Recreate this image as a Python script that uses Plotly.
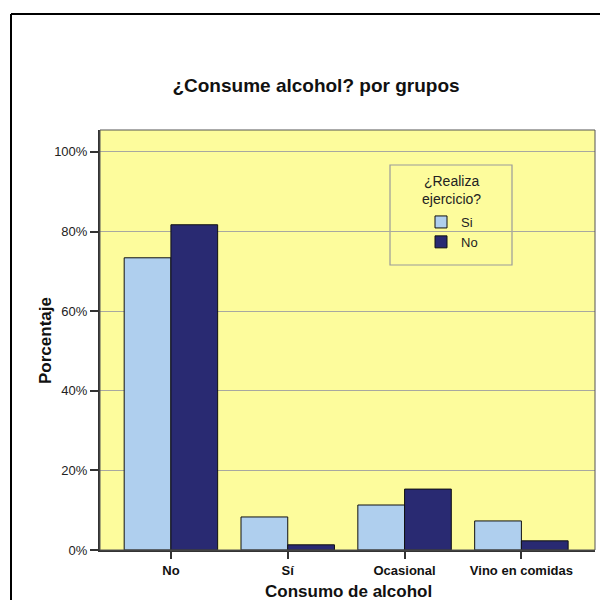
import plotly.graph_objects as go

categories = ["No", "Sí", "Ocasional", "Vino en comidas"]
series_names = ["Si", "No"]
si_values = [73.4, 8.3, 11.3, 7.3]
no_values = [81.7, 1.3, 15.3, 2.3]
y_ticks = [0, 20, 40, 60, 80, 100]
y_ticklabels = ["0%", "20%", "40%", "60%", "80%", "100%"]
legend_title = "¿Realiza<br>ejercicio?"

colors = ["#AFCFEE", "#292A72"]
FONT = "Liberation Sans, Arial, sans-serif"

L, R, T, B = 100, 595, 130, 550
W, H = R - L, B - T


def px(x):
    return (x - L) / W


def py(y):
    return (B - y) / H


fig = go.Figure()
for name, vals, col in zip(series_names, [si_values, no_values], colors):
    fig.add_trace(go.Bar(
        x=list(range(len(categories))), y=vals, name=name,
        marker=dict(color=col, line=dict(color="#111111", width=1)),
    ))

annotations = [
    dict(text=legend_title, xref="paper", yref="paper", x=px(451), y=py(190),
         xanchor="center", yanchor="middle", showarrow=False, align="center",
         font=dict(family=FONT, size=14, color="#222222")),
    dict(text="<b>Porcentaje</b>", xref="paper", yref="paper", x=px(45), y=py(341),
         xanchor="center", yanchor="middle", showarrow=False, textangle=-90,
         font=dict(family=FONT, size=17, color="#111111")),
    dict(text="<b>Consumo de alcohol</b>", xref="paper", yref="paper", x=px(348), y=py(591),
         xanchor="center", yanchor="middle", showarrow=False,
         font=dict(family=FONT, size=17, color="#111111")),
]

fig.update_layout(
    width=608, height=608,
    margin=dict(l=L, r=608 - R, t=T, b=608 - B),
    paper_bgcolor="white",
    plot_bgcolor="#FDFC9C",
    barmode="group", bargap=0.2, bargroupgap=0,
    title=dict(text="<b>¿Consume alcohol? por grupos</b>", x=316 / 608, xanchor="center",
               xref="container", y=1 - 85 / 608, yanchor="middle",
               font=dict(family=FONT, size=19, color="#111111")),
    font=dict(family=FONT, color="#222222"),
    showlegend=True,
    legend=dict(
        x=px(421), y=py(207), xanchor="left", yanchor="top",
        bgcolor="rgba(0,0,0,0)", borderwidth=0,
        font=dict(family=FONT, size=13, color="#222222"),
        itemwidth=30, tracegroupgap=0,
    ),
    annotations=annotations,
    xaxis=dict(
        range=[-0.607, 3.63], automargin=False,
        tickmode="array", tickvals=list(range(len(categories))),
        ticktext=["<b>%s</b>" % c for c in categories],
        tickfont=dict(family=FONT, size=13, color="#111111"),
        ticks="outside", ticklen=7, tickcolor="#333333", tickwidth=1.5,
        showline=True, linecolor="#333333", linewidth=2,
        showgrid=False, zeroline=False,
    ),
    yaxis=dict(
        range=[0, 105.5], automargin=False,
        tickmode="array", tickvals=y_ticks, ticktext=y_ticklabels,
        tickfont=dict(family=FONT, size=13, color="#222222"),
        ticks="outside", ticklen=8, tickcolor="#333333", tickwidth=1.5,
        showline=True, linecolor="#333333", linewidth=2,
        showgrid=True, gridcolor="#A8A8A0", gridwidth=1,
        zeroline=False,
    ),
    shapes=[
        # plot area frame
        dict(type="rect", xref="paper", yref="paper", x0=0, y0=0, x1=1, y1=1,
             line=dict(color="#555555", width=1), fillcolor="rgba(0,0,0,0)", layer="above"),
        # legend frame
        dict(type="rect", xref="paper", yref="paper",
             x0=px(390), x1=px(512), y0=py(265), y1=py(165),
             line=dict(color="#9A9A9A", width=1.2), fillcolor="#FDFC9C", layer="below"),
        # outer frame (top and left edges visible)
        dict(type="line", xref="paper", yref="paper",
             x0=px(11), x1=px(600), y0=py(14), y1=py(14),
             line=dict(color="#000000", width=2)),
        dict(type="line", xref="paper", yref="paper",
             x0=px(11), x1=px(11), y0=py(14), y1=py(600),
             line=dict(color="#000000", width=2)),
    ],
)

fig.write_html("out.html")
